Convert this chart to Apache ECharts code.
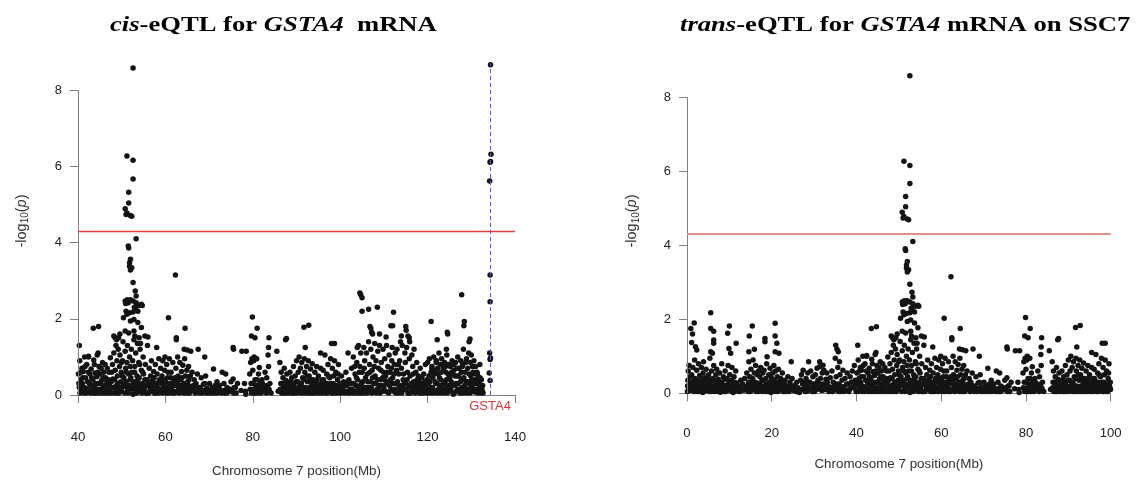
<!DOCTYPE html>
<html>
<head>
<meta charset="utf-8">
<script src="https://cdn.jsdelivr.net/npm/echarts@6/dist/echarts.min.js"></script>
<style>
html,body{margin:0;padding:0;background:#fff;}
#chart{width:1137px;height:480px;}
</style>
</head>
<body>
<div id="chart"></div>
<script>
// ---- DATA (position in Mb, -log10(p)) ----
const yTicks = [0, 2, 4, 6, 8];
const threshold = 4.3;
const gstaPos = 134.3;
const leftXRange = [40, 140];
const rightXRange = [0, 100];

const peakSNPs = [
 [52.6,8.58],[51.2,6.27],[52.6,6.16],[52.6,5.67],[51.6,5.32],[51.6,5.04],[50.8,4.89],[51.2,4.78],[51.0,4.74],[52.0,4.71],[52.3,4.69],
 [53.3,4.10],[51.5,3.91],[51.6,3.86],[52.0,3.56],[51.8,3.47],[51.8,3.38],[52.3,3.34],[52.0,3.28],[52.6,2.95],[53.1,2.73],[53.3,2.60],
 [50.8,2.47],[51.5,2.42],[52.0,2.50],[52.6,2.47],[53.3,2.42],[53.9,2.35],[54.5,2.38],[54.7,2.35],[51.0,2.20],[51.8,2.16],[52.6,2.18],
 [53.1,2.25],[53.7,2.20],[50.4,2.03],[51.2,2.12],[52.0,1.94],[52.8,1.98],[53.7,1.90],[54.5,1.77],[52.8,1.68],[51.6,1.63],[50.8,1.68],
 [55.3,1.55],[50.9,2.40],[51.3,2.50],[52.9,2.30],[54.0,1.50],[54.3,1.35],[53.0,1.55]
];

const cisSNPs = [
 [134.4,8.67],[134.5,6.32],[134.4,6.13],[134.3,6.11],[134.2,5.62],[134.3,3.15],[134.3,2.45],
 [134.2,1.10],[134.4,0.97],[134.3,0.93],[134.1,0.58],[134.3,0.38]
];

const highSNPs = [
 [0.9,1.75],[1.7,1.9],[1.3,1.6],[1.1,1.37],[2.0,1.26],[2.3,1.17],
 [5.6,2.18],[5.6,1.75],[6.3,1.68],[6.3,1.44],[6.3,1.35],[5.6,1.12],[6.0,1.08],
 [9.6,1.62],[10.0,1.82],[9.9,1.21],[10.3,1.08],[11.6,1.35],
 [14.7,1.55],[15.4,1.82],[14.6,1.12],[15.9,1.19],
 [18.4,1.48],[18.4,1.39],[18.9,0.99],
 [20.8,1.89],[20.8,1.55],[21.2,1.35],[20.8,1.12],[21.7,1.08],
 [24.6,0.85],[28.7,0.85],[31.3,0.85],[32.1,0.76],
 [35.1,1.3],[35.4,1.19],[35.7,1.12],[36.0,0.85],
 [40.3,1.3],[43.5,1.75],[44.7,1.8],[42.4,1.0],[44.6,1.1],
 [48.2,1.55],[48.5,1.5],[48.8,1.45],[49.3,1.5],[49.6,1.6],
 [56.0,1.52],[58.0,1.25],[60.7,2.03],[62.3,3.15],[62.5,1.5],[62.5,1.45],[64.5,1.75],[64.3,1.2],[65.0,1.18],[65.8,1.15],[67.5,1.2],[69.0,1.0],
 [75.5,1.25],[75.6,1.2],[77.5,1.15],[78.5,1.15],
 [79.9,2.05],[79.7,1.55],[80.5,1.5],[81.0,1.75],[80.3,1.0],
 [83.7,1.5],[83.6,1.25],[85.5,1.15],[87.5,1.45],[87.7,1.48],
 [91.7,1.78],[92.8,1.83],[92.0,1.25],[95.5,1.1],[98.0,1.35],[98.7,1.35],[101.8,1.1],
 [104.5,2.68],[104.7,2.63],[105.0,2.55],[105.0,2.2],[106.5,2.25],[108.5,2.3],[112.2,2.17],[111.6,1.82],[112.0,1.82],
 [106.8,1.8],[107.0,1.75],[107.2,1.65],[107.4,1.6],[109.0,1.6],[110.5,1.52],
 [115.0,1.8],[115.1,1.7],[115.5,1.55],[115.8,1.5],[114.0,1.55],
 [120.8,1.93],[122.2,1.45],[124.5,1.65],[124.6,1.6],[124.3,1.2],
 [127.8,2.63],[128.4,1.93],[128.3,1.82],[129.7,1.47],[129.5,1.4]
];

const cloud0to45 = [
 [0.1,0.05],[0.2,0.35],[0.3,0.6],[0.4,0.15],[0.5,0.75],[0.6,0.25],[0.7,0.45],[0.8,0.08],[0.9,0.3],
 [1.1,0.5],[1.2,0.12],[1.4,0.7],[1.5,0.28],[1.7,0.05],[1.8,0.9],[1.9,0.4],
 [2.1,0.18],[2.3,0.62],[2.4,0.05],[2.6,0.35],[2.7,0.8],[2.9,0.22],
 [3.0,0.48],[3.2,0.1],[3.4,0.7],[3.5,0.3],[3.7,0.02],[3.8,0.55],[3.9,0.85],
 [4.0,0.2],[4.2,0.42],[4.4,0.08],[4.5,0.65],[4.7,0.3],[4.9,0.15],
 [5.1,0.5],[5.3,0.05],[5.4,0.95],[5.7,0.32],[5.8,0.6],[5.9,0.12],
 [6.1,0.4],[6.3,0.75],[6.4,0.2],[6.6,0.05],[6.8,0.5],[6.9,0.28],
 [7.0,0.65],[7.2,0.1],[7.4,0.38],[7.6,0.18],[7.7,0.55],[7.9,0.03],
 [8.1,0.3],[8.2,0.8],[8.4,0.12],[8.6,0.45],[8.8,0.05],[8.9,0.22],
 [9.0,0.6],[9.2,0.15],[9.4,0.4],[9.7,0.75],[9.8,0.08],[9.9,0.3],
 [10.1,0.5],[10.3,0.1],[10.5,0.35],[10.6,0.7],[10.8,0.2],[10.9,0.02],
 [11.1,0.45],[11.3,0.15],[11.5,0.6],[11.7,0.28],[11.9,0.06],
 [12.2,0.2],[12.5,0.05],[12.7,0.35],[12.9,0.12],
 [13.1,0.25],[13.4,0.08],[13.6,0.4],[13.9,0.15],
 [14.1,0.55],[14.3,0.1],[14.5,0.3],[14.6,0.85],[14.8,0.45],[14.9,0.05],
 [15.1,0.65],[15.3,0.2],[15.5,0.4],[15.6,0.9],[15.8,0.12],[15.9,0.55],
 [16.1,0.3],[16.2,0.75],[16.4,0.05],[16.6,0.5],[16.8,0.22],[16.9,0.6],
 [17.0,0.15],[17.2,0.45],[17.4,0.7],[17.5,0.08],[17.7,0.35],[17.9,0.55],
 [18.0,0.2],[18.2,0.62],[18.5,0.05],[18.6,0.4],[18.8,0.8],[18.9,0.25],
 [19.1,0.1],[19.3,0.5],[19.5,0.3],[19.6,0.68],[19.8,0.02],[19.9,0.42],
 [20.0,0.18],[20.2,0.55],[20.4,0.08],[20.5,0.75],[20.7,0.35],[20.9,0.6],
 [21.0,0.22],[21.3,0.45],[21.4,0.05],[21.6,0.65],[21.8,0.3],[21.9,0.12],
 [22.1,0.4],[22.3,0.15],[22.5,0.55],[22.7,0.05],[22.9,0.28],
 [23.1,0.35],[23.3,0.1],[23.6,0.2],[23.8,0.45],
 [24.0,0.05],[24.3,0.3],[24.5,0.15],[24.8,0.4],
 [25.1,0.1],[25.4,0.22],[25.7,0.05],[25.9,0.3],
 [26.2,0.15],[26.5,0.02],[26.8,0.35],
 [27.0,0.5],[27.2,0.1],[27.4,0.62],[27.6,0.3],[27.9,0.05],
 [28.1,0.4],[28.3,0.2],[28.5,0.55],[28.8,0.08],
 [29.0,0.3],[29.2,0.6],[29.5,0.12],[29.7,0.45],[29.9,0.25],
 [30.1,0.05],[30.3,0.5],[30.5,0.2],[30.7,0.68],[30.9,0.35],
 [31.1,0.15],[31.3,0.72],[31.5,0.4],[31.7,0.08],[31.9,0.55],
 [32.1,0.25],[32.3,0.62],[32.6,0.1],[32.8,0.38],
 [33.0,0.55],[33.3,0.2],[33.5,0.05],[33.8,0.42],
 [34.0,0.15],[34.2,0.6],[34.5,0.3],[34.8,0.08],
 [35.0,0.95],[35.2,0.45],[35.4,0.12],[35.6,0.7],[35.9,0.25],
 [36.1,0.5],[36.3,0.05],[36.6,0.35],[36.8,0.62],
 [37.0,0.18],[37.3,0.4],[37.5,0.08],[37.8,0.55],
 [38.0,0.25],[38.3,0.1],[38.5,0.45],[38.8,0.3],
 [39.0,0.6],[39.2,0.15],[39.5,0.75],[39.7,0.35],[39.9,0.05],
 [40.1,0.55],[40.3,0.2],[40.4,0.9],[40.6,0.4],[40.8,0.1],[40.9,0.7],
 [41.0,0.3],[41.2,0.62],[41.4,0.05],[41.5,1.0],[41.7,0.45],[41.9,0.18],
 [42.0,0.8],[42.2,0.35],[42.4,1.02],[42.5,0.1],[42.7,0.55],[42.9,0.25],
 [43.0,0.68],[43.2,0.12],[43.4,0.4],[43.6,0.92],[43.8,0.2],[43.9,0.58],
 [44.1,0.05],[44.3,0.48],[44.4,1.05],[44.6,0.3],[44.8,0.75],[44.9,0.15]
];

const cloud45to90 = [
 [45.0,0.55],[45.2,0.1],[45.4,0.38],[45.6,0.85],[45.8,0.2],[45.9,0.6],
 [46.1,0.05],[46.3,0.45],[46.5,0.15],[46.7,0.7],[46.9,0.3],
 [47.1,0.6],[47.3,0.1],[47.4,0.98],[47.6,0.35],[47.8,0.2],[47.9,0.8],
 [48.0,0.42],[48.2,1.1],[48.3,0.05],[48.5,0.65],[48.7,1.3],[48.8,0.25],[48.9,0.9],
 [49.0,0.5],[49.2,1.2],[49.3,0.15],[49.5,0.75],[49.6,1.05],[49.8,0.35],[49.9,0.6],
 [50.0,0.1],[50.2,0.9],[50.3,1.4],[50.5,0.45],[50.6,0.22],[50.8,1.15],[50.9,0.7],
 [51.0,0.3],[51.2,0.85],[51.3,1.3],[51.5,0.05],[51.6,0.55],[51.8,1.0],[51.9,0.4],
 [52.0,0.2],[52.2,1.2],[52.3,0.6],[52.5,0.9],[52.6,0.02],[52.8,1.45],[52.9,0.35],
 [53.0,0.75],[53.2,1.1],[53.3,0.15],[53.5,0.5],[53.6,1.35],[53.8,0.28],[53.9,0.85],
 [54.0,0.45],[54.2,1.2],[54.3,0.1],[54.5,0.65],[54.7,0.3],[54.9,1.0],
 [55.0,0.55],[55.2,0.2],[55.4,0.8],[55.6,0.05],[55.8,0.4],[55.9,1.3],
 [56.1,0.25],[56.3,0.7],[56.4,0.1],[56.6,0.5],[56.8,0.9],[56.9,0.15],
 [57.1,0.38],[57.3,0.62],[57.5,0.05],[57.7,0.8],[57.9,0.2],
 [58.1,0.55],[58.3,0.12],[58.5,0.95],[58.7,0.35],[58.9,0.7],
 [59.0,0.08],[59.2,0.5],[59.4,0.9],[59.6,0.25],[59.8,0.65],[59.9,1.0],
 [60.1,0.15],[60.3,0.8],[60.5,0.45],[60.7,0.05],[60.9,0.95],
 [61.0,0.3],[61.3,0.6],[61.5,0.12],[61.7,0.85],[61.9,0.4],
 [62.1,0.05],[62.4,0.7],[62.6,0.25],[62.8,1.0],[62.9,0.5],
 [63.1,0.15],[63.3,0.85],[63.5,0.4],[63.7,0.62],[63.9,0.08],
 [64.0,0.78],[64.2,0.3],[64.4,0.95],[64.6,0.5],[64.8,0.1],[64.9,0.65],
 [65.1,0.35],[65.3,0.75],[65.5,0.05],[65.7,0.5],[65.9,0.22],
 [66.1,0.6],[66.3,0.15],[66.6,0.4],[66.8,0.05],
 [67.0,0.3],[67.3,0.55],[67.6,0.1],[67.9,0.2],
 [68.2,0.45],[68.4,0.05],[68.7,0.28],[68.9,0.12],
 [69.2,0.5],[69.5,0.18],[69.8,0.05],
 [70.1,0.3],[70.4,0.1],[70.7,0.2],
 [71.0,0.68],[71.2,0.05],[71.5,0.15],[71.8,0.35],
 [72.1,0.08],[72.4,0.25],[72.7,0.1],
 [73.0,0.6],[73.3,0.12],[73.6,0.05],[73.8,0.55],
 [74.1,0.2],[74.4,0.08],[74.7,0.15],
 [75.0,0.35],[75.2,0.1],[75.5,0.42],[75.8,0.2],
 [76.2,0.05],[76.5,0.3],[77.3,0.12],
 [78.1,0.3],[78.3,0.1],[78.4,0.02],
 [79.3,0.55],[79.5,0.85],[79.6,0.3],[79.8,0.95],[79.9,0.12],
 [80.0,0.65],[80.2,0.9],[80.4,0.05],[80.5,0.4],[80.7,0.2],[80.9,0.95],
 [81.1,0.15],[81.3,0.55],[81.5,0.72],[81.7,0.3],[81.9,0.05],
 [82.1,0.4],[82.3,0.1],[82.5,0.25],[82.8,0.6],
 [83.0,0.2],[83.2,0.45],[83.5,1.05],[83.6,0.75],[83.8,0.1],[83.9,0.3],
 [84.2,0.05],[85.8,0.1],
 [86.2,0.85],[86.4,0.3],[86.5,0.6],[86.7,0.12],[86.9,0.45],
 [87.0,0.2],[87.2,0.7],[87.4,0.05],[87.6,0.38],[87.8,0.55],
 [88.0,0.1],[88.2,0.3],[88.5,0.6],[88.7,0.18],[88.9,0.45],
 [89.1,0.25],[89.3,0.75],[89.5,0.05],[89.7,0.5],[89.9,0.35]
];

const cloud90to133 = [
 [90.0,0.9],[90.2,0.15],[90.4,0.6],[90.6,1.0],[90.8,0.3],[90.9,0.7],
 [91.0,0.05],[91.2,0.85],[91.4,0.45],[91.6,0.2],[91.8,0.95],[91.9,0.6],
 [92.1,0.12],[92.3,0.75],[92.5,0.35],[92.7,0.9],[92.9,0.5],
 [93.0,0.2],[93.2,0.68],[93.4,0.05],[93.6,0.82],[93.8,0.4],
 [94.0,0.15],[94.2,0.6],[94.4,0.3],[94.6,0.75],[94.8,0.08],
 [95.0,0.5],[95.2,0.25],[95.5,0.7],[95.7,0.1],[95.9,0.4],
 [96.1,0.65],[96.3,0.2],[96.5,1.05],[96.7,0.05],[96.9,0.55],
 [97.0,0.3],[97.2,0.8],[97.4,0.12],[97.6,0.45],[97.8,0.95],
 [98.0,0.2],[98.2,0.7],[98.3,0.05],[98.5,0.5],[98.7,0.9],[98.9,0.25],
 [99.0,0.6],[99.2,0.1],[99.4,0.4],[99.6,0.8],[99.8,0.15],[99.9,0.3],
 [100.1,0.05],[100.3,0.5],[100.5,0.2],[100.8,0.35],
 [101.0,0.1],[101.3,0.6],[101.5,0.25],[101.8,0.05],
 [102.0,0.4],[102.3,0.15],[102.6,0.7],[102.8,0.3],
 [103.0,1.0],[103.2,0.1],[103.4,0.55],[103.6,0.25],[103.8,0.85],[103.9,1.25],
 [104.0,0.4],[104.2,1.3],[104.3,0.05],[104.5,0.75],[104.7,1.1],[104.9,0.3],
 [105.0,0.6],[105.2,0.15],[105.4,1.25],[105.6,0.9],[105.8,0.45],[105.9,0.08],
 [106.0,1.1],[106.2,0.55],[106.4,0.2],[106.5,1.4],[106.7,0.8],[106.9,0.35],
 [107.0,1.2],[107.2,0.05],[107.3,0.65],[107.5,1.0],[107.7,0.3],[107.9,1.35],
 [108.0,0.5],[108.2,0.9],[108.4,0.15],[108.6,1.15],[108.8,0.7],[108.9,0.25],
 [109.0,1.3],[109.2,0.4],[109.4,0.85],[109.6,0.1],[109.8,1.2],[109.9,0.6],
 [110.0,0.2],[110.2,0.95],[110.4,0.5],[110.6,1.3],[110.8,0.08],[110.9,0.75],
 [111.0,0.35],[111.2,1.05],[111.4,0.6],[111.6,0.15],[111.8,0.9],[111.9,1.25],
 [112.0,0.45],[112.2,0.1],[112.4,0.8],[112.6,1.1],[112.8,0.3],[112.9,0.65],
 [113.0,1.2],[113.2,0.05],[113.4,0.55],[113.6,0.9],[113.8,1.4],[113.9,0.25],
 [114.0,0.7],[114.2,1.3],[114.4,0.4],[114.6,0.15],[114.8,1.1],[114.9,0.85],
 [115.0,0.3],[115.2,1.25],[115.4,0.6],[115.6,0.05],[115.8,0.95],[115.9,1.4],
 [116.0,0.5],[116.2,0.2],[116.4,1.05],[116.6,0.75],[116.8,0.35],[116.9,1.2],
 [117.1,0.1],[117.3,0.6],[117.5,0.85],[117.7,0.3],[117.9,0.5],
 [118.1,0.2],[118.3,0.7],[118.5,0.05],[118.7,0.45],[118.9,0.15],
 [119.1,0.55],[119.3,0.25],[119.5,0.8],[119.7,0.1],[119.9,0.4],
 [120.0,0.85],[120.2,0.3],[120.4,0.95],[120.6,0.05],[120.8,0.6],[120.9,0.2],
 [121.0,0.75],[121.2,0.45],[121.4,1.0],[121.6,0.12],[121.8,0.65],[121.9,0.3],
 [122.0,0.9],[122.2,0.05],[122.4,0.55],[122.6,1.1],[122.8,0.25],[122.9,0.8],
 [123.0,0.4],[123.2,0.95],[123.4,0.15],[123.6,0.7],[123.8,0.05],[123.9,0.85],
 [124.0,0.3],[124.2,0.6],[124.4,1.05],[124.6,0.2],[124.8,0.8],[124.9,0.45],
 [125.0,0.1],[125.2,0.75],[125.4,0.35],[125.6,0.9],[125.8,0.55],[125.9,0.02],
 [126.0,0.65],[126.2,0.25],[126.4,0.85],[126.6,0.1],[126.8,0.5],[126.9,1.0],
 [127.0,0.3],[127.2,0.7],[127.4,0.05],[127.6,0.9],[127.8,0.4],[127.9,0.2],
 [128.0,0.8],[128.2,1.2],[128.4,0.15],[128.6,0.6],[128.8,0.35],[128.9,0.95],
 [129.0,0.05],[129.2,0.7],[129.4,1.1],[129.6,0.3],[129.8,0.85],[129.9,0.5],
 [130.0,1.05],[130.2,0.2],[130.4,0.6],[130.6,0.9],[130.8,0.08],[130.9,0.4],
 [131.0,0.75],[131.2,0.3],[131.4,0.55],[131.6,0.1],[131.8,0.35],[131.9,0.2],
 [132.0,0.45],[132.2,0.05],[132.4,0.15],[132.6,0.25]
];

const cloudLow0to66 = [
 [0.15,0.2],[0.45,0.1],[0.75,0.18],[1.05,0.25],[1.35,0.08],[1.65,0.35],[1.95,0.12],[2.25,0.3],[2.55,0.15],[2.85,0.05],
 [3.15,0.28],[3.45,0.15],[3.75,0.38],[4.05,0.05],[4.35,0.25],[4.65,0.12],[4.95,0.4],[5.25,0.2],[5.55,0.3],[5.85,0.05],
 [6.15,0.15],[6.45,0.35],[6.75,0.1],[7.05,0.25],[7.35,0.05],[7.65,0.3],[7.95,0.15],[8.25,0.08],[8.55,0.22],[8.85,0.38],
 [9.15,0.05],[9.45,0.2],[9.75,0.12],[10.05,0.3],[10.35,0.22],[10.65,0.05],[10.95,0.15],[11.25,0.3],[11.55,0.08],[11.85,0.2],
 [14.2,0.2],[14.45,0.05],[14.75,0.15],[15.05,0.3],[15.35,0.08],[15.65,0.22],[15.95,0.1],[16.25,0.15],[16.55,0.28],[16.85,0.05],
 [17.15,0.25],[17.45,0.12],[17.75,0.05],[18.05,0.35],[18.35,0.15],[18.65,0.22],[18.95,0.05],[19.25,0.2],[19.55,0.1],[19.85,0.25],
 [20.15,0.3],[20.45,0.12],[20.75,0.05],[21.05,0.15],[21.35,0.25],[21.65,0.08],[21.95,0.2],
 [22.4,0.1],[22.8,0.2],[23.2,0.05],[23.9,0.15],[24.4,0.2],[24.9,0.08],[25.5,0.15],[26.0,0.08],[27.3,0.25],[27.8,0.15],
 [28.2,0.05],[28.6,0.3],[29.1,0.15],[29.6,0.05],[30.2,0.25],[30.6,0.1],[31.0,0.3],[31.6,0.2],[32.0,0.08],[32.5,0.22],
 [33.1,0.3],[33.7,0.1],[34.3,0.05],[34.7,0.2],[35.3,0.25],[35.8,0.05],[36.4,0.18],[37.1,0.05],[37.7,0.25],[38.2,0.05],
 [38.7,0.15],[39.3,0.3],[39.8,0.2],
 [40.2,0.3],[40.45,0.05],[40.7,0.6],[40.95,0.15],[41.1,0.45],[41.35,0.2],[41.6,0.75],[41.85,0.05],
 [42.1,0.15],[42.35,0.6],[42.6,0.3],[42.85,0.05],[43.1,0.45],[43.3,0.25],[43.55,0.05],[43.75,0.8],
 [44.0,0.3],[44.2,0.15],[44.5,0.6],[44.75,0.05],[45.1,0.3],[45.3,0.7],[45.5,0.05],[45.75,0.45],
 [46.0,0.25],[46.2,0.8],[46.4,0.1],[46.6,0.35],[46.8,0.05],[47.0,0.4],[47.2,0.25],[47.5,0.05],[47.7,0.6],
 [48.1,0.2],[48.4,0.4],[48.6,0.1],[48.95,0.05],[49.1,0.3],[49.4,0.05],[49.7,0.2],[49.95,0.85],
 [50.1,0.5],[50.4,0.25],[50.7,0.05],[50.95,0.35],[51.1,0.6],[51.4,0.15],[51.7,0.25],[51.95,0.75],
 [52.1,0.45],[52.4,0.15],[52.7,0.3],[52.95,0.6],[53.1,0.2],[53.4,0.05],[53.7,0.4],[53.95,0.15],
 [54.1,0.8],[54.4,0.25],[54.6,0.05],[54.8,0.6],[55.1,0.15],[55.3,0.4],[55.5,0.05],[55.7,0.25],
 [56.0,0.35],[56.2,0.05],[56.5,0.2],[56.7,0.3],[57.0,0.1],[57.2,0.25],[57.4,0.45],[57.6,0.15],[57.8,0.05],
 [58.0,0.3],[58.2,0.2],[58.4,0.05],[58.6,0.4],[58.8,0.15],[59.1,0.3],[59.3,0.05],[59.5,0.15],[59.7,0.4],
 [60.0,0.35],[60.2,0.05],[60.4,0.2],[60.6,0.6],[60.8,0.25],[61.1,0.1],[61.2,0.45],[61.4,0.2],[61.6,0.05],[61.8,0.3],
 [62.0,0.25],[62.2,0.45],[62.5,0.1],[62.7,0.3],[63.0,0.4],[63.2,0.05],[63.4,0.25],[63.6,0.15],[63.8,0.45],
 [64.1,0.2],[64.3,0.05],[64.5,0.3],[64.7,0.15],[65.0,0.05],[65.2,0.25],[65.4,0.4],[65.6,0.15],[65.8,0.1]
];

const cloudLow66to133 = [
 [66.4,0.25],[66.9,0.1],[67.4,0.2],[67.8,0.05],[68.1,0.15],[68.6,0.1],[69.0,0.3],[69.4,0.05],[70.0,0.12],[70.5,0.05],
 [70.9,0.15],[71.4,0.25],[71.9,0.05],[72.3,0.15],[72.9,0.05],[73.4,0.3],[74.0,0.05],[74.5,0.1],[75.1,0.15],[75.6,0.05],[76.0,0.2],
 [79.4,0.15],[79.7,0.05],[80.1,0.3],[80.3,0.15],[80.6,0.05],[80.8,0.25],[81.0,0.4],[81.2,0.05],[81.4,0.25],[81.6,0.1],
 [81.8,0.2],[82.0,0.08],[82.2,0.3],[82.7,0.12],[83.1,0.05],[83.4,0.25],[83.7,0.15],
 [86.3,0.15],[86.6,0.05],[86.8,0.3],[87.1,0.05],[87.3,0.25],[87.5,0.12],[87.9,0.2],[88.1,0.05],[88.4,0.15],[88.6,0.35],
 [88.8,0.05],[89.0,0.15],[89.2,0.05],[89.4,0.3],[89.6,0.2],[89.8,0.1],
 [90.1,0.05],[90.3,0.35],[90.5,0.2],[90.7,0.1],[91.1,0.3],[91.3,0.15],[91.5,0.05],[91.7,0.4],[92.0,0.2],[92.2,0.05],
 [92.4,0.5],[92.6,0.15],[92.8,0.05],[93.1,0.4],[93.3,0.15],[93.5,0.3],[93.7,0.05],[93.9,0.2],[94.1,0.35],[94.3,0.05],
 [94.5,0.15],[94.7,0.4],[94.9,0.2],[95.1,0.05],[95.3,0.15],[95.6,0.3],[95.8,0.05],[96.0,0.2],[96.2,0.4],[96.4,0.1],
 [96.6,0.3],[96.8,0.15],[97.1,0.05],[97.3,0.5],[97.5,0.25],[97.7,0.1],[97.9,0.3],[98.1,0.05],[98.4,0.3],[98.6,0.15],
 [98.8,0.05],[99.1,0.25],[99.3,0.05],[99.5,0.55],[99.7,0.2],[99.95,0.1],
 [100.2,0.15],[100.6,0.3],[100.9,0.05],[101.1,0.25],[101.4,0.1],[101.7,0.35],[102.1,0.05],[102.4,0.3],[102.7,0.15],[102.9,0.05],
 [103.1,0.3],[103.3,0.75],[103.5,0.05],[103.7,0.45],[104.1,0.15],[104.4,0.6],[104.6,0.25],[104.8,0.05],
 [105.1,0.35],[105.3,0.05],[105.5,0.7],[105.7,0.2],[106.1,0.05],[106.3,0.35],[106.6,0.1],[106.8,0.6],
 [107.1,0.2],[107.4,0.45],[107.6,0.1],[107.8,0.75],[108.1,0.3],[108.3,0.05],[108.5,0.4],[108.7,0.15],
 [109.1,0.05],[109.3,0.65],[109.5,0.25],[109.7,0.45],[110.1,0.4],[110.3,0.1],[110.5,0.3],[110.7,0.6],
 [111.1,0.05],[111.3,0.25],[111.5,0.4],[111.7,0.7],[112.1,0.3],[112.3,0.55],[112.5,0.15],[112.7,0.05],
 [113.1,0.35],[113.3,0.8],[113.5,0.2],[113.7,0.1],[114.1,0.05],[114.3,0.25],[114.5,0.55],[114.7,0.35],
 [115.1,0.15],[115.3,0.4],[115.5,0.05],[115.7,0.25],[116.1,0.05],[116.3,0.3],[116.5,0.15],[116.7,0.55],
 [117.0,0.25],[117.2,0.05],[117.4,0.15],[117.6,0.4],[117.8,0.1],[118.0,0.35],[118.2,0.05],[118.4,0.25],[118.6,0.1],[118.8,0.3],
 [119.0,0.05],[119.2,0.15],[119.4,0.35],[119.6,0.2],[119.8,0.05],
 [120.1,0.15],[120.3,0.5],[120.5,0.35],[120.7,0.1],[120.95,0.7],[121.1,0.2],[121.3,0.05],[121.5,0.55],[121.7,0.35],[121.95,0.85],
 [122.1,0.3],[122.3,0.7],[122.5,0.15],[122.7,0.45],[122.95,0.05],[123.1,0.6],[123.3,0.25],[123.5,0.8],[123.7,0.35],[123.95,0.15],
 [124.1,0.75],[124.3,0.4],[124.5,0.05],[124.7,0.55],[124.95,0.25],[125.1,0.45],[125.3,0.15],[125.5,0.6],[125.7,0.25],[125.95,0.8],
 [126.1,0.05],[126.3,0.5],[126.5,0.3],[126.7,0.7],[126.95,0.15],[127.1,0.5],[127.3,0.15],[127.5,0.35],[127.7,0.6],[127.95,0.75],
 [128.1,0.05],[128.3,0.45],[128.5,0.25],[128.7,0.85],[128.95,0.15],[129.1,0.35],[129.3,0.15],[129.5,0.55],[129.7,0.05],[129.95,0.25],
 [130.1,0.4],[130.3,0.75],[130.5,0.1],[130.7,0.3],[130.95,0.55],[131.1,0.15],[131.3,0.6],[131.5,0.05],[131.7,0.45],[131.95,0.8],
 [132.1,0.25],[132.3,0.4],[132.5,0.1],[132.7,0.05]
];

// ---- CHART ----
const allSNPs = [].concat(cloud0to45, cloud45to90, cloud90to133, cloudLow0to66, cloudLow66to133, highSNPs, peakSNPs, cisSNPs);
const leftData = allSNPs.filter(d => d[0] >= leftXRange[0] && d[0] <= leftXRange[1]);
const rightData = allSNPs.filter(d => d[0] >= rightXRange[0] && d[0] <= rightXRange[1]);

const tickColor = '#222';
const axisColor = '#808080';
const sans = '"Liberation Sans", Arial, sans-serif';
const serif = '"Liberation Serif", "Times New Roman", serif';

function xAxisCfg(idx, range, gap, margin) {
  return {
    gridIndex: idx, type: 'value', min: range[0], max: range[1], interval: 20,
    name: 'Chromosome 7 position(Mb)', nameLocation: 'middle', nameGap: gap,
    nameTextStyle: { fontFamily: sans, fontSize: 13.4, color: '#333' },
    axisLine: { show: true, lineStyle: { color: axisColor, width: 1 } },
    axisTick: { show: true, length: 8, inside: false, lineStyle: { color: axisColor } },
    axisLabel: { fontFamily: sans, fontSize: 13.2, color: tickColor, margin: margin },
    splitLine: { show: false }
  };
}
function yAxisCfg(idx) {
  return {
    gridIndex: idx, type: 'value', min: -0.5, max: 9,
    axisLine: { show: false },
    axisTick: { show: true, length: 8, inside: false, customValues: yTicks, lineStyle: { color: axisColor } },
    axisLabel: { fontFamily: sans, fontSize: 13, color: tickColor, margin: 16, customValues: yTicks },
    splitLine: { show: false }
  };
}
function yNameText(x, y) {
  return { type: 'text', x: x, y: y, rotation: Math.PI / 2, silent: true,
    style: { text: '-log{sub|10}({i|p})', font: '14.5px ' + sans, fill: '#333', align: 'center', verticalAlign: 'middle',
      rich: { sub: { fontSize: 10, fontFamily: sans, verticalAlign: 'bottom', lineHeight: 18, fill: '#333' },
              i: { fontStyle: 'italic', fontSize: 14.5, fontFamily: sans, lineHeight: 18, fill: '#333' } } } };
}
function segment(x0, y0, x1, y1, style) {
  return [{ coord: [x0, y0], lineStyle: style }, { coord: [x1, y1] }];
}

const option = {
  animation: false,
  backgroundColor: '#fff',
  grid: [
    { left: 78, right: 622, top: 52.1, bottom: 65.95, containLabel: false, outerBoundsMode: 'none' },
    { left: 687, right: 26.3, top: 60.3, bottom: 68.2, containLabel: false, outerBoundsMode: 'none' }
  ],
  xAxis: [xAxisCfg(0, leftXRange, 50.3, 17), xAxisCfg(1, rightXRange, 46.5, 15)],
  yAxis: [yAxisCfg(0), yAxisCfg(1)],
  graphic: [
    { type: 'text', x: 110, y: 14.5, scaleX: 1.21, silent: true,
      style: { text: '{bi|cis}-eQTL for {bi|GSTA4}  mRNA', font: 'bold 22px ' + serif, fill: '#000', verticalAlign: 'top',
        rich: { bi: { fontStyle: 'italic', fontWeight: 'bold', fontSize: 22, fontFamily: serif, fill: '#000' } } } },
    { type: 'text', x: 680, y: 14.5, scaleX: 1.21, silent: true,
      style: { text: '{bi|trans}-eQTL for {bi|GSTA4} mRNA on SSC7', font: 'bold 22px ' + serif, fill: '#000', verticalAlign: 'top',
        rich: { bi: { fontStyle: 'italic', fontWeight: 'bold', fontSize: 22, fontFamily: serif, fill: '#000' } } } },
    yNameText(21.5, 221),
    yNameText(632, 221)
  ],
  series: [
    {
      type: 'scatter', xAxisIndex: 0, yAxisIndex: 0, data: leftData,
      symbol: 'circle', symbolSize: 5.5, itemStyle: { color: '#141414', opacity: 1 },
      silent: true, clip: true, z: 2,
      markLine: {
        silent: true, symbol: ['none', 'none'], label: { show: false }, animation: false,
        data: [
          segment(leftXRange[0], yTicks[0], leftXRange[0], yTicks[yTicks.length - 1], { color: axisColor, width: 1, type: 'solid' }),
          segment(leftXRange[0], threshold, leftXRange[1], threshold, { color: '#e63c3c', width: 1.3, type: 'solid' }),
          segment(gstaPos, 0, gstaPos, 8.7, { color: '#5555dd', width: 1, type: [4, 3] })
        ]
      },
      markPoint: {
        silent: true, symbol: 'circle', symbolSize: 0, animation: false,
        label: { show: true, position: 'inside', formatter: 'GSTA4', color: '#e03434', fontFamily: sans, fontSize: 13 },
        data: [{ coord: [gstaPos, -0.29] }]
      }
    },
    {
      type: 'scatter', xAxisIndex: 1, yAxisIndex: 1, data: rightData,
      symbol: 'circle', symbolSize: 5.5, itemStyle: { color: '#141414', opacity: 1 },
      silent: true, clip: true, z: 2,
      markLine: {
        silent: true, symbol: ['none', 'none'], label: { show: false }, animation: false,
        data: [
          segment(rightXRange[0], yTicks[0], rightXRange[0], yTicks[yTicks.length - 1], { color: axisColor, width: 1, type: 'solid' }),
          segment(rightXRange[0], threshold, rightXRange[1], threshold, { color: '#dd8f8f', width: 2, type: 'solid' })
        ]
      }
    }
  ]
};

const chart = echarts.init(document.getElementById('chart'), null, { renderer: 'canvas' });
chart.setOption(option);
</script>
</body>
</html>
